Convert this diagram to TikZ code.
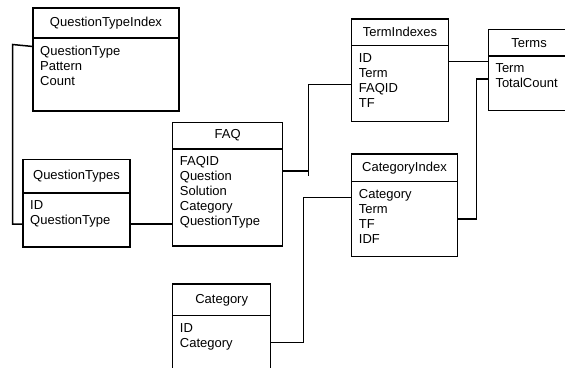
\documentclass[tikz,border=0pt]{standalone}
\usepackage{fontspec}
\setmainfont{Liberation Sans}

\tikzset{
  head/.style={draw, line width=1.5pt, anchor=north west, inner sep=0pt, outer sep=0pt},
  body/.style={draw, line width=1.5pt, anchor=north west, inner sep=0pt, outer sep=0pt},
  fields/.style={anchor=north west, align=left, inner sep=0pt, xshift=7pt, yshift=-7.5pt},
  link/.style={line width=1.5pt}
}

\begin{document}
\begin{tikzpicture}[x=1pt,y=-1pt,font=\fontsize{13pt}{15pt}\selectfont]
\clip (0,0) rectangle (565,367);
\fill[white] (0,0) rectangle (565,367);

% QuestionTypeIndex
\node[head, minimum width=146pt, minimum height=30pt] (qti) at (33,8) {QuestionTypeIndex};
\node[body, minimum width=146pt, minimum height=73pt] (qtiB) at (33,38) {};
\node[fields] (qtiF) at (qtiB.north west) {QuestionType\\Pattern\\Count};

% QuestionTypes
\node[head, minimum width=107pt, minimum height=33.5pt] (qt) at (23,159.3) {QuestionTypes};
\node[body, minimum width=107pt, minimum height=54pt] (qtB) at (23,192.8) {};
\node[fields] (qtF) at (qtB.north west) {ID\\QuestionType};

% FAQ
\node[head, minimum width=110pt, minimum height=26.7pt] (faq) at (172.7,122.3) {FAQ};
\node[body, minimum width=110pt, minimum height=97pt] (faqB) at (172.7,149) {};
\node[fields] (faqF) at (faqB.north west) {FAQID\\Question\\Solution\\Category\\QuestionType};

% TermIndexes
\node[head, minimum width=96.6pt, minimum height=26.7pt] (ti) at (351.7,19) {TermIndexes};
\node[body, minimum width=96.6pt, minimum height=76pt] (tiB) at (351.7,45.7) {};
\node[fields] (tiF) at (tiB.north west) {ID\\Term\\FAQID\\TF};

% Terms
\node[head, minimum width=81.5pt, minimum height=26.5pt] (terms) at (488.3,29.5) {Terms};
\node[body, minimum width=81.5pt, minimum height=54.5pt] (termsB) at (488.3,56) {};
\node[fields] (termsF) at (termsB.north west) {Term\\TotalCount};

% CategoryIndex
\node[head, minimum width=105.6pt, minimum height=27.7pt] (ci) at (351.7,154) {CategoryIndex};
\node[body, minimum width=105.6pt, minimum height=75pt] (ciB) at (351.7,181.7) {};
\node[fields] (ciF) at (ciB.north west) {Category\\Term\\TF\\IDF};

% Category
\node[head, minimum width=98pt, minimum height=31.7pt] (cat) at (172.7,284) {Category};
\node[body, minimum width=98pt, minimum height=100pt] (catB) at (172.7,315.7) {};
\node[fields] (catF) at (catB.north west) {ID\\Category};

% links
\draw[link] (qtiB.west |- 0,46.5) -- (12.5,44.5) -- (12.5,224) -- (qtB.west |- 0,224);
\draw[link] (qtB.east |- 0,224) -- (faqB.west |- 0,224);
\draw[link] (faqB.east |- 0,171) -- (308.5,171);
\draw[link] (tiB.west |- 0,84.3) -| (308.5,176);
\draw[link] (tiB.east |- 0,61.7) -- (termsB.west |- 0,61.7);
\draw[link] (termsB.west |- 0,79) -| (476.5,219) -- (ciB.east |- 0,219);
\draw[link] (ciB.west |- 0,197.3) -| (303.3,342.7) -- (catB.east |- 0,342.7);

\end{tikzpicture}
\end{document}
